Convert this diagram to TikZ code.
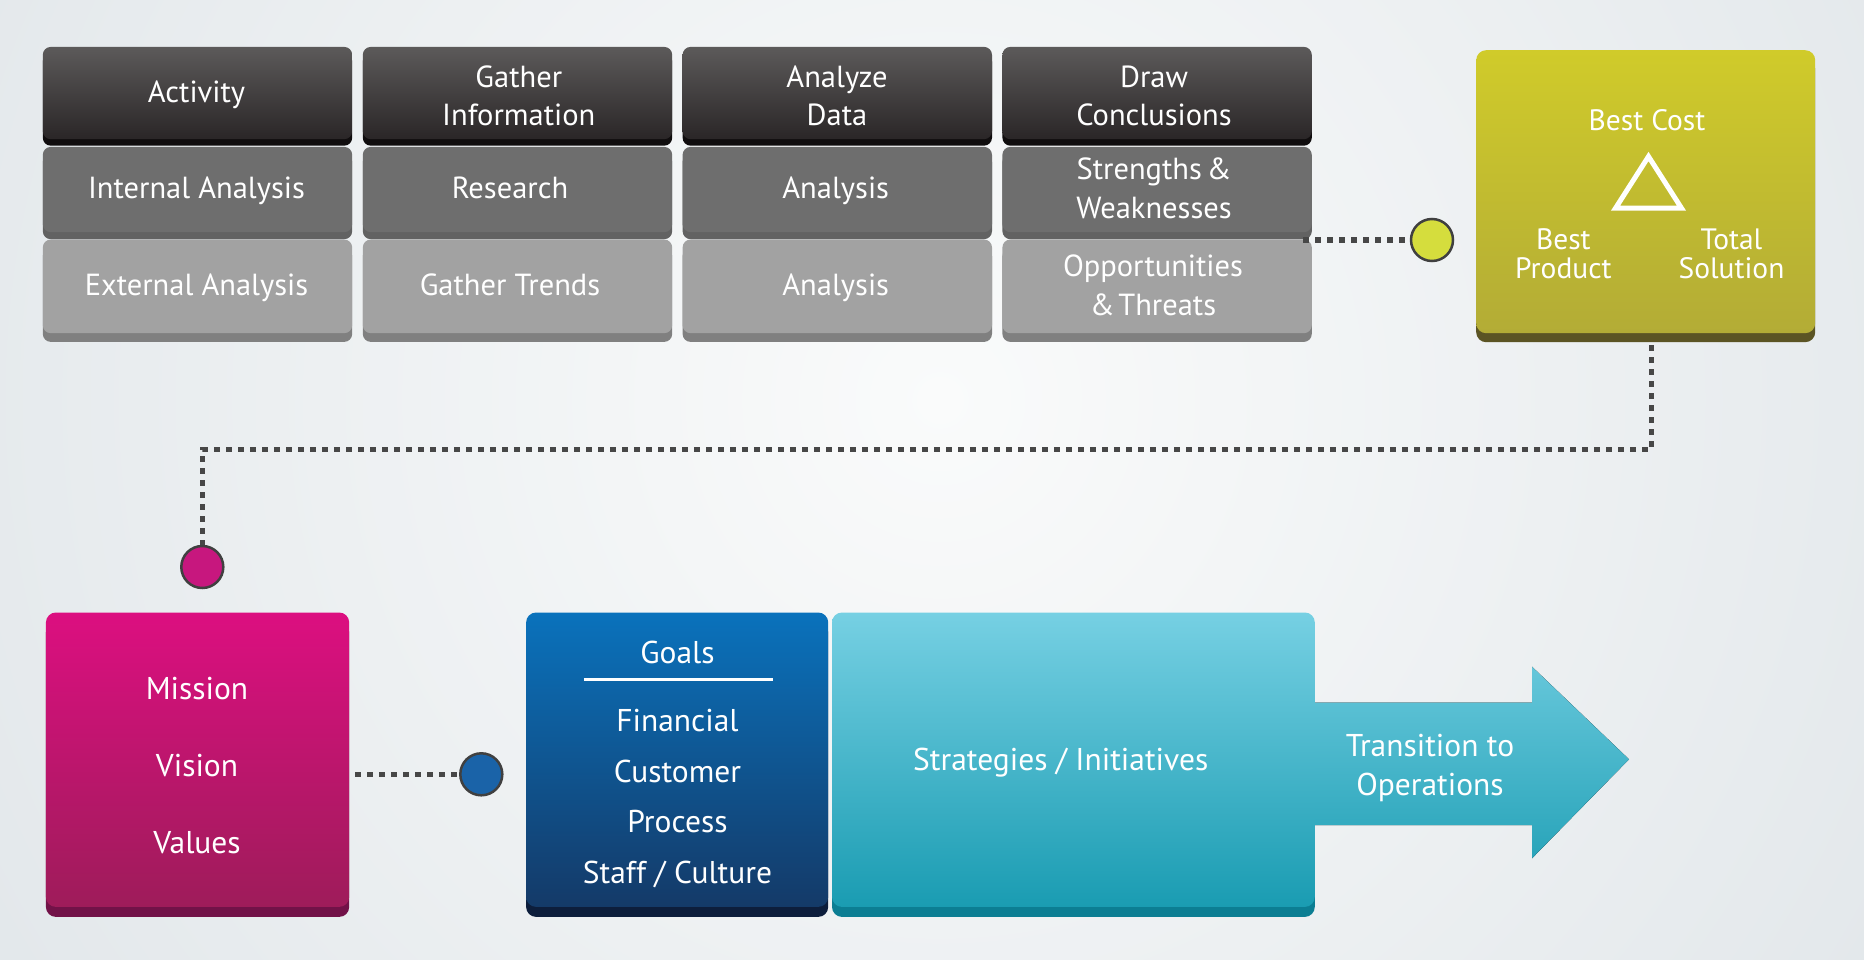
\documentclass[tikz,border=0pt]{standalone}
\usepackage{fontspec}
\setmainfont{PT Sans}
\definecolor{bgout}{HTML}{D6DDE2}
\definecolor{bgin}{HTML}{FAFBFB}
\definecolor{darkT}{HTML}{5C5A5A}
\definecolor{darkB}{HTML}{2A2627}
\definecolor{darkS}{HTML}{100D0E}
\definecolor{midF}{HTML}{6E6E6E}
\definecolor{midS}{HTML}{626262}
\definecolor{lightF}{HTML}{A2A2A2}
\definecolor{lightS}{HTML}{808080}
\definecolor{yelT}{HTML}{D0CB2A}
\definecolor{yelB}{HTML}{B3AC36}
\definecolor{yelS}{HTML}{5B5424}
\definecolor{pinkT}{HTML}{DC0F80}
\definecolor{pinkB}{HTML}{9E1C5A}
\definecolor{pinkS}{HTML}{721248}
\definecolor{blueT}{HTML}{0A72BC}
\definecolor{blueB}{HTML}{143A68}
\definecolor{blueS}{HTML}{0D1E3C}
\definecolor{tealT}{HTML}{76D0E3}
\definecolor{tealB}{HTML}{1A9CB2}
\definecolor{tealS}{HTML}{0C7E93}
\definecolor{dotC}{HTML}{474747}
\definecolor{ringC}{HTML}{404040}
\definecolor{yelC}{HTML}{D5DD3D}
\definecolor{pinkC}{HTML}{C7177E}
\definecolor{blueC}{HTML}{1A63A8}
\begin{document}
\begin{tikzpicture}[x=1pt,y=-1pt,
  cell/.style={rectangle, rounded corners=8pt, minimum width=309.4pt, inner sep=0pt, anchor=north west},
  darkcell/.style={cell, minimum height=92.3pt, top color=darkT, bottom color=darkB,
     preaction={fill=darkS, transform canvas={yshift=-6.5pt}}},
  midcell/.style={cell, minimum height=85.3pt, fill=midF,
     preaction={fill=midS, transform canvas={yshift=-7pt}}},
  lightcell/.style={cell, minimum height=93.7pt, fill=lightF,
     preaction={fill=lightS, transform canvas={yshift=-8.7pt}}},
  bigbox/.style={rectangle, rounded corners=10pt, inner sep=0pt, anchor=north west, minimum height=294.4pt},
  ttxt/.style={anchor=base, text=white, inner sep=0pt, font=\fontsize{30.5}{36}\selectfont},
  ytxt/.style={anchor=base, text=white, inner sep=0pt, font=\fontsize{29.5}{30}\selectfont},
  btxt/.style={anchor=base, text=white, inner sep=0pt, font=\fontsize{31.5}{40}\selectfont},
  dot/.style={circle, minimum size=42pt, inner sep=0pt, draw=ringC, line width=2.5pt},
  dotline/.style={draw=dotC, line width=5.5pt, dash pattern=on 6pt off 6pt}
]
\useasboundingbox (0,0) rectangle (1864,960);
% background
\begin{scope}
\clip (0,0) rectangle (1864,960);
\fill[bgout] (0,0) rectangle (1864,960);
\shade[inner color=bgin, outer color=bgout] (940,400) circle (1700);
\end{scope}

% top grid
\node[darkcell] (c11) at (42.6,46.7) {};
\node[darkcell] (c12) at (362.6,46.7) {};
\node[darkcell] (c13) at (682.4,46.7) {};
\node[darkcell] (c14) at (1002.2,46.7) {};
\node[midcell] (c21) at (42.6,146.7) {};
\node[midcell] (c22) at (362.6,146.7) {};
\node[midcell] (c23) at (682.4,146.7) {};
\node[midcell] (c24) at (1002.2,146.7) {};
\node[lightcell] (c31) at (42.6,239.3) {};
\node[lightcell] (c32) at (362.6,239.3) {};
\node[lightcell] (c33) at (682.4,239.3) {};
\node[lightcell] (c34) at (1002.2,239.3) {};

\node[ttxt] (t11) at (196.5,102.7) {Activity};
\node[ttxt] (t12a) at (518.8,87.7) {Gather};
\node[ttxt] (t12b) at (518.8,126) {Information};
\node[ttxt] (t13a) at (837,87.7) {Analyze};
\node[ttxt] (t13b) at (837,126) {Data};
\node[ttxt] (t14a) at (1154,87.7) {Draw};
\node[ttxt] (t14b) at (1154,126) {Conclusions};
\node[ttxt] (t21) at (196.5,198.3) {Internal Analysis};
\node[ttxt] (t22) at (510,198.3) {Research};
\node[ttxt] (t23) at (835.7,198.3) {Analysis};
\node[ttxt] (t24a) at (1154,180) {Strengths\kern0.15em\&};
\node[ttxt] (t24b) at (1154,218.3) {Weaknesses};
\node[ttxt] (t31) at (196.5,295) {External Analysis};
\node[ttxt] (t32) at (510,295) {Gather Trends};
\node[ttxt] (t33) at (835.7,295) {Analysis};
\node[ttxt] (t34a) at (1153,276.7) {Opportunities};
\node[ttxt] (t34b) at (1153,316) {\&\kern0.12em Threats};

% yellow box
\node[bigbox, minimum width=339pt, minimum height=283pt, top color=yelT, bottom color=yelB,
   preaction={fill=yelS, transform canvas={yshift=-9pt}}] (yb) at (1476,50) {};
\node[ytxt] (ybc) at (1647,130.7) {Best Cost};
\node[ytxt] (ybp1) at (1563.4,250) {Best};
\node[ytxt] (ybp2) at (1563.4,278.3) {Product};
\node[ytxt] (yts1) at (1731.5,250) {Total};
\node[ytxt] (yts2) at (1731.5,278.3) {Solution};
\draw[white, line width=5pt, line join=miter] (1648.5,156.5) -- (1681.5,208.2) -- (1615.5,208.2) -- cycle;

% pink box
\node[bigbox, minimum width=303.3pt, top color=pinkT, bottom color=pinkB,
   preaction={fill=pinkS, transform canvas={yshift=-10pt}}] (pb) at (45.7,612.3) {};
\node[btxt] (m1) at (197,699.3) {Mission};
\node[btxt] (m2) at (197,776) {Vision};
\node[btxt] (m3) at (197,853.3) {Values};

% blue box
\node[bigbox, minimum width=302.1pt, top color=blueT, bottom color=blueB,
   preaction={fill=blueS, transform canvas={yshift=-10pt}}] (gb) at (525.9,612.3) {};
\node[btxt] (g0) at (677.5,663.3) {Goals};
\draw[white, line width=3pt] (583.8,679) -- (773,679);
\node[btxt] (g1) at (677.5,731.7) {Financial};
\node[btxt] (g2) at (677.5,782.7) {Customer};
\node[btxt] (g3) at (677.5,832.3) {Process};
\node[btxt] (g4) at (677.5,883.3) {Staff / Culture};

% teal box and arrow
\fill[top color=tealT!81.5!tealB, bottom color=tealT!16.4!tealB]
  (1305,702.7) -- (1532,702.7) -- (1532,666.7) -- (1629,759.3) -- (1532,858.3) -- (1532,825) -- (1305,825) -- cycle;
\node[bigbox, minimum width=482.8pt, top color=tealT, bottom color=tealB,
   preaction={fill=tealS, transform canvas={yshift=-10pt}}] (sb) at (831.8,612.3) {};
\node[btxt] (s1) at (1060.7,770.7) {Strategies / Initiatives};
\node[btxt] (tr1) at (1430,756) {Transition to};
\node[btxt] (tr2) at (1430,795) {Operations};

% circles
\node[dot, fill=yelC] (yc) at (1432,240) {};
\node[dot, fill=pinkC] (pc) at (202.3,567) {};
\node[dot, fill=blueC] (bc) at (481.3,774.3) {};
\coordinate (bend) at (202.3,449.3);

% connectors
\draw[dotline] ([xshift=-9pt]yc.center -| c24.east) -- (yc.west);
\draw[dotline] ([xshift=6pt,yshift=-12pt]yb.south) |- (bend) -- (pc.north);
\draw[dotline] ([xshift=6pt]bc.center -| pb.east) -- (bc.west);
\end{tikzpicture}
\end{document}
